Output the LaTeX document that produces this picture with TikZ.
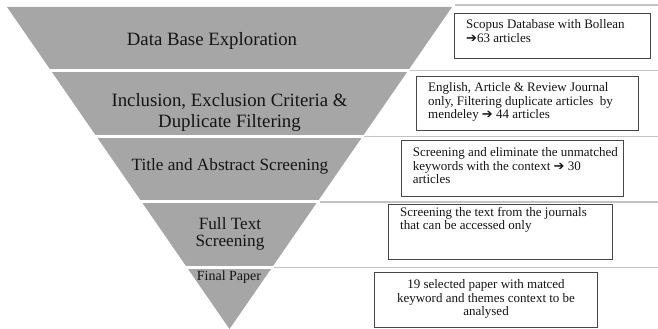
\documentclass[tikz,border=0pt]{standalone}
\usepackage{fontspec}
\setmainfont{Liberation Serif}
\newfontfamily\arrowfont{DejaVu Sans Bold}
\definecolor{funnelgray}{RGB}{166,166,166}
\definecolor{rulegray}{RGB}{195,195,195}
\definecolor{txt}{RGB}{20,20,20}
\newcommand{\rarrow}{{\arrowfont\char"2794}}
\begin{document}
\begin{tikzpicture}[x=1pt,y=-1pt,
  bandtext/.style={align=center, inner sep=0, anchor=north, text=txt},
  bigfont/.style={font=\fontsize{18.8}{21}\selectfont},
  midfont/.style={font=\fontsize{17.2}{17.5}\selectfont},
  smallfont/.style={font=\fontsize{14}{15}\selectfont},
  gap/.style={white, line width=3pt},
  sep/.style={rulegray, line width=1.5pt},
  boxframe/.style={draw=black!72, line width=1pt, inner sep=0, anchor=north west},
  boxtext/.style={font=\fontsize{13}{13.3}\selectfont, inner sep=0, text=txt},
]
\useasboundingbox (0,0) rectangle (658,329);
% funnel
\fill[funnelgray] (7,7) -- (452,7) -- (229.5,329) -- cycle;
\draw[gap] (30,70.5) -- (409.5,70.5);
\draw[gap] (60,136.5) -- (363.5,136.5);
\draw[gap] (120,201.75) -- (318.5,201.75);
\draw[gap] (170,267.25) -- (273,267.25);
% separators to the right
\draw[sep] (455,5) -- (658,5);
\draw[sep] (409.5,70.5) -- (658,70.5);
\draw[sep] (363.5,136.5) -- (658,136.5);
\draw[sep] (320,201.75) -- (658,201.75);
\draw[sep] (274,267.25) -- (658,267.25);
% funnel labels
\node[bandtext, bigfont] (l1) at (212,30.3) {\strut Data Base Exploration};
\node[bandtext, bigfont] (l2) at (229.5,92) {\strut Inclusion, Exclusion Criteria \&\\Duplicate Filtering};
\node[bandtext, midfont] (l3) at (230,157.8) {\strut Title and Abstract Screening};
\node[bandtext, midfont] (l4) at (230,217) {\strut Full Text\\Screening};
\node[bandtext, smallfont] (l5) at (229,269.5) {\strut Final Paper};
% boxes
\node[boxframe, minimum width=196pt, minimum height=45pt] (b1) at (454,12.7) {};
\node[boxframe, minimum width=222pt, minimum height=54pt] (b2) at (416,76) {};
\node[boxframe, minimum width=222pt, minimum height=56pt] (b3) at (401,140) {};
\node[boxframe, minimum width=224pt, minimum height=55pt] (b4) at (388,204) {};
\node[boxframe, minimum width=223pt, minimum height=55pt] (b5) at (374,272) {};
\node[boxtext, align=left, anchor=north west] (t1) at ([xshift=12pt,yshift=-6.7pt]b1.north west)
  {\strut Scopus Database with Bollean\\\rarrow63 articles};
\node[boxtext, align=left, anchor=north west] (t2) at ([xshift=12pt,yshift=-6.4pt]b2.north west)
  {\strut English, Article \& Review Journal\\only, Filtering duplicate articles\ \ by\\mendeley \rarrow{} 44 articles};
\node[boxtext, align=left, anchor=north west] (t3) at ([xshift=11.6pt,yshift=-7.4pt]b3.north west)
  {\strut Screening and eliminate the unmatched\\keywords with the context \rarrow{} 30\\articles};
\node[boxtext, align=left, anchor=north west] (t4) at ([xshift=12pt,yshift=-2.6pt]b4.north west)
  {\strut Screening the text from the journals\\that can be accessed only};
\node[boxtext, align=center, anchor=north] (t5) at ([yshift=-7.3pt]b5.north)
  {\strut 19 selected paper with matced\\keyword and themes context to be\\analysed};
\end{tikzpicture}
\end{document}
